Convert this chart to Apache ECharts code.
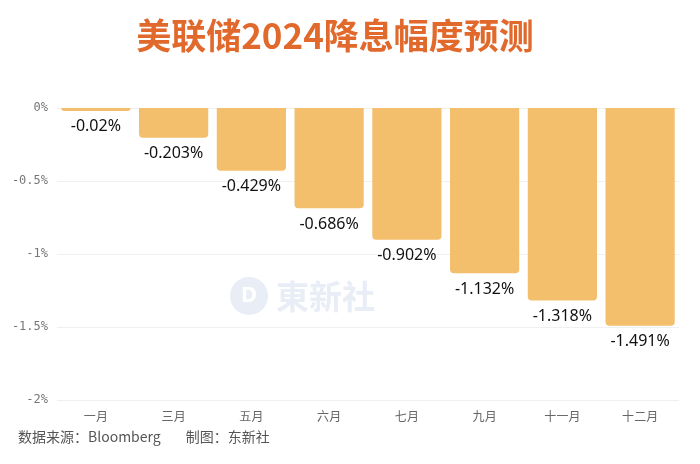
<!DOCTYPE html>
<html><head><meta charset="utf-8">
<script src="https://cdn.jsdelivr.net/npm/echarts@6/dist/echarts.min.js"></script>
<style>html,body{margin:0;padding:0;background:#fff}#c{width:700px;height:464px}</style>
</head><body><div id="c"></div>
<script>
const categories = ['一月','三月','五月','六月','七月','九月','十一月','十二月'];
const cuts = [-0.02, -0.203, -0.429, -0.686, -0.902, -1.132, -1.318, -1.491];
const yTicks = [0, -0.5, -1, -1.5, -2];

const chart = echarts.init(document.getElementById('c'));
chart.setOption({
  backgroundColor: '#fff',
  animation: false,
  title: {
    text: '美联储2024降息幅度预测',
    left: 330, top: 13, textAlign: 'center',
    textStyle: {color: '#E2692C', fontSize: 35, fontWeight: 'bold', fontFamily: 'Noto Sans CJK SC'}
  },
  graphic: [
    {type: 'circle', shape: {cx: 249, cy: 296, r: 19}, style: {fill: '#E9EDF6'}, z: 0},
    {type: 'text', style: {x: 249, y: 296, text: 'D', fill: '#fff', font: 'bold 22px Noto Sans', align: 'center', verticalAlign: 'middle'}, z: 1},
    {type: 'text', style: {x: 276, y: 296, text: '東新社', fill: '#E9EDF6', font: 'bold 33px Noto Sans CJK SC', verticalAlign: 'middle'}, z: 0},
    {type: 'text', style: {x: 18, y: 437, text: '数据来源：Bloomberg        制图：东新社', fill: '#555', font: '14px Noto Sans CJK SC', verticalAlign: 'middle'}}
  ],
  grid: {left: 57, right: 21, top: 108, bottom: 64},
  xAxis: {
    type: 'category', data: categories, position: 'bottom',
    axisLine: {show: false}, axisTick: {show: false},
    axisLabel: {color: '#666', fontSize: 12, fontFamily: 'Noto Sans CJK SC', margin: 10}
  },
  yAxis: {
    type: 'value', min: -2, max: 0, interval: 0.5,
    axisLine: {show: false}, axisTick: {show: false},
    splitLine: {lineStyle: {color: '#f0f0f0'}},
    axisLabel: {color: '#777', fontSize: 12, fontFamily: 'DejaVu Sans Mono', margin: 9,
      formatter: v => (yTicks.includes(v) ? (Math.round(v*10)/10) + '%' : '')}
  },
  series: [{
    type: 'bar', data: cuts, barCategoryGap: '11%',
    itemStyle: {color: '#F3BF6C', borderRadius: [0, 0, 4, 4]},
    label: {show: true, position: 'bottom', distance: 8, color: '#111', fontSize: 16, fontFamily: 'Noto Sans',
      formatter: p => p.value + '%'},
    z: 2
  }]
});
</script></body></html>
